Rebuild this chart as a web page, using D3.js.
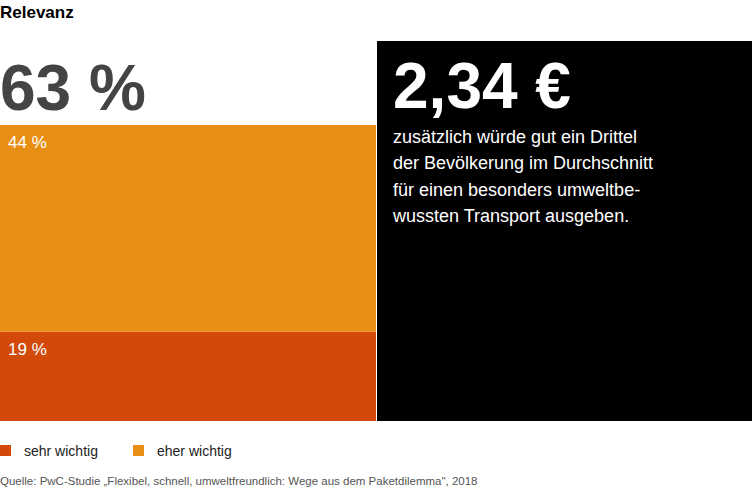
<!DOCTYPE html>
<html><head><meta charset="utf-8">
<script src="https://cdn.jsdelivr.net/npm/d3@7"></script>
<style>body{margin:0;background:#fff;font-family:"Liberation Sans",Arial,sans-serif}</style>
</head><body><svg id="c" width="752" height="490"></svg>
<script>
const categories = ["sehr wichtig", "eher wichtig"];
const values = [19, 44];
const colors = ["#D2490A", "#E98E15"];
const total = 63;
const price = "2,34 €";
const noteLines = ["zusätzlich würde gut ein Drittel", "der Bevölkerung im Durchschnitt", "für einen besonders umweltbe-", "wussten Transport ausgeben."];

const svg = d3.select("#c");
const y = d3.scaleLinear().domain([0, total]).range([421, 125]);

svg.append("text").attr("x", 0).attr("y", 18).attr("font-size", 17).attr("font-weight", "bold").attr("fill", "#000").text("Relevanz");

// stacked bar
let acc = 0;
values.forEach((v, i) => {
  const y0 = y(acc), y1 = y(acc + v);
  svg.append("rect").attr("x", 0).attr("width", 376).attr("y", y1).attr("height", y0 - y1).attr("fill", colors[i]);
  svg.append("text").attr("x", 8).attr("y", y1 + 23).attr("font-size", 17).attr("fill", "#fff").text(`${v} %`);
  acc += v;
});
svg.append("text").attr("x", 0).attr("y", 110).attr("font-size", 64).attr("font-weight", "bold").attr("fill", "#444").text(`${total} %`);

// black panel
svg.append("rect").attr("x", 377).attr("y", 41).attr("width", 375).attr("height", 380).attr("fill", "#000");
svg.append("text").attr("x", 393).attr("y", 108).attr("font-size", 64).attr("font-weight", "bold").attr("fill", "#fff").text(price);
noteLines.forEach((t, i) => {
  svg.append("text").attr("x", 393).attr("y", 143 + i * 26.3).attr("font-size", 18).attr("fill", "#fff").text(t);
});

// legend
const lx = [0, 133];
categories.forEach((c, i) => {
  svg.append("rect").attr("x", lx[i]).attr("y", 445).attr("width", 11).attr("height", 11).attr("fill", colors[i]);
  svg.append("text").attr("x", lx[i] + 24).attr("y", 456).attr("font-size", 14).attr("fill", "#222").text(c);
});

svg.append("text").attr("x", 0).attr("y", 485).attr("font-size", 11.5).attr("fill", "#555")
  .text("Quelle: PwC-Studie „Flexibel, schnell, umweltfreundlich: Wege aus dem Paketdilemma\", 2018");
</script></body></html>
